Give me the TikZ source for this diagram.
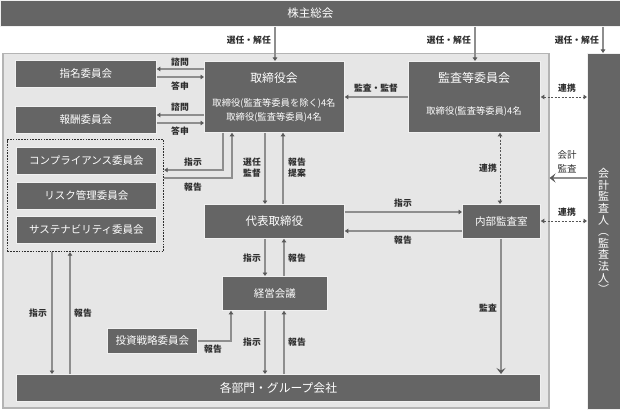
\documentclass[tikz,border=0pt]{standalone}
\usepackage{fontspec}
\setmainfont{Noto Sans CJK JP}
\usetikzlibrary{arrows.meta}
\definecolor{boxc}{HTML}{656565}
\definecolor{panelc}{HTML}{E6E6E6}
\definecolor{panelb}{HTML}{B4B4B4}
\definecolor{linec}{HTML}{8E8E8E}
\definecolor{tipc}{HTML}{5A5A5A}
\definecolor{txtc}{HTML}{2E2E2E}
\definecolor{dotc}{HTML}{555555}
\tikzset{
  box/.style={draw=white!88!gray, line width=0.8pt, fill=boxc, text=white, inner sep=0pt, anchor=north west, font=\fontsize{10.5}{12}\selectfont},
  btxt/.style={text=white, inner sep=0pt},
  lbl/.style={text=txtc, inner sep=0pt, font=\bfseries\fontsize{8.8}{11}\selectfont, align=center},
  conn/.style={draw=linec, line width=1.3pt, -{Triangle[width=4.5pt,length=3.5pt,color=tipc]}},
  bigconn/.style={draw=linec, line width=1.3pt, -{Stealth[width=9pt,length=6pt,inset=2.5pt,color=tipc]}},
  dotconn/.style={draw=dotc, line width=0.9pt, dash pattern=on 2pt off 1.5pt, {Triangle[width=4.5pt,length=3.5pt,color=tipc]}-{Triangle[width=4.5pt,length=3.5pt,color=tipc]}}
}
\begin{document}
\begin{tikzpicture}[x=1pt,y=-1pt]
\useasboundingbox (0,0) rectangle (620,409);
\fill[white] (0,0) rectangle (620,409);
% panel
\node[draw=panelb, fill=panelc, line width=1.5pt, minimum width=546pt, minimum height=354pt, anchor=north west, inner sep=0pt] (panel) at (2,53) {};
% top bar
\node[box, minimum width=620pt, minimum height=26pt, font=\fontsize{11.5}{13}\selectfont] (kabu) at (0,0) {株主総会};
% auditor column
\node[box, minimum width=34pt, minimum height=356pt] (kaikei) at (587,53) {};
\node[btxt, align=center, font=\fontsize{11}{11.6}\selectfont] (kaikeit) at (603.5,231) {会\\計\\監\\査\\人\\︵\\監\\査\\法\\人\\︶};
% committees
\node[box, minimum width=141pt, minimum height=27pt] (shimei) at (15,60) {指名委員会};
\node[box, minimum width=141pt, minimum height=27pt] (housyu) at (15,106) {報酬委員会};
% board
\node[box, minimum width=140pt, minimum height=71pt] (tori) at (204,61) {};
\node[btxt, font=\fontsize{11.8}{13}\selectfont] (torit) at (274,78) {取締役会};
\node[btxt, align=center, font=\fontsize{9.3}{14}\selectfont] (toris) at (274,110) {取締役(監査等委員を除く)4名\\取締役(監査等委員)4名};
% audit committee
\node[box, minimum width=132pt, minimum height=71pt] (kansa) at (408,61) {};
\node[btxt, font=\fontsize{12}{13}\selectfont] (kansat) at (474,78) {監査等委員会};
\node[btxt, font=\fontsize{9.3}{11}\selectfont] (kansas) at (474,111) {取締役(監査等委員)4名};
% dashed group
\node[draw=txtc, line width=1.2pt, dash pattern=on 1.6pt off 1.2pt, minimum width=156pt, minimum height=112pt, anchor=north west, inner sep=0pt] (dbox) at (7,139) {};
\node[box, minimum width=140pt, minimum height=27pt] (comp) at (16,147) {コンプライアンス委員会};
\node[box, minimum width=140pt, minimum height=27pt] (risk) at (16,182) {リスク管理委員会};
\node[box, minimum width=140pt, minimum height=27pt] (sus) at (16,216) {サステナビリティ委員会};
% executives
\node[box, minimum width=140pt, minimum height=34pt, font=\fontsize{11.5}{13}\selectfont] (daihyo) at (204,204) {代表取締役};
\node[box, minimum width=78pt, minimum height=34pt] (naibu) at (462,204) {内部監査室};
\node[box, minimum width=105pt, minimum height=34pt] (keiei) at (222,276) {経営会議};
\node[box, minimum width=90pt, minimum height=25pt] (toushi) at (107,328) {投資戦略委員会};
\node[box, minimum width=524pt, minimum height=27pt, font=\fontsize{11.8}{13}\selectfont] (kakubu) at (16,374) {各部門・グループ会社};

% election arrows
\draw[conn] (kabu.south -| 275,0) -- (tori.north -| 275,0);
\draw[conn] (kabu.south -| 475,0) -- (kansa.north -| 475,0);
\draw[conn] (kabu.south -| 603,0) -- (kaikei.north -| 603,0);
\node[lbl, anchor=east] (l1) at (271,40) {選任・解任};
\node[lbl, anchor=east] (l2) at (471,40) {選任・解任};
\node[lbl, anchor=east] (l3) at (599,40) {選任・解任};

% nomination / remuneration
\draw[conn] (tori.west |- 0,69) -- (shimei.east |- 0,69);
\draw[conn] (shimei.east |- 0,77) -- (tori.west |- 0,77);
\draw[conn] (tori.west |- 0,115) -- (housyu.east |- 0,115);
\draw[conn] (housyu.east |- 0,123) -- (tori.west |- 0,123);
\node[lbl] (l4) at (180,62) {諮問};
\node[lbl] (l5) at (180,86) {答申};
\node[lbl] (l6) at (180,107) {諮問};
\node[lbl] (l7) at (180,131) {答申};

% audit & supervision
\draw[conn] (kansa.west |- 0,97) -- (tori.east |- 0,97);
\node[lbl] (l8) at (376,88) {監査・監督};
\draw[dotconn] (kansa.east |- 0,97) -- (kaikei.west |- 0,97);
\node[lbl] (l9) at (567,88) {連携};

% board <-> compliance group
\draw[conn] (tori.south -| 223,0) |- (dbox.east |- 0,170);
\draw[conn] (dbox.east |- 0,178) -| (tori.south -| 232,0);
\node[lbl] (l10) at (193,162) {指示};
\node[lbl] (l11) at (193,187) {報告};

% board <-> representative director
\draw[conn] (tori.south -| 265,0) -- (daihyo.north -| 265,0);
\draw[conn] (daihyo.north -| 283,0) -- (tori.south -| 283,0);
\node[lbl] (l12) at (252,168) {選任\\監督};
\node[lbl] (l13) at (297,168) {報告\\提案};

% audit committee <-> internal audit
\draw[dotconn] (kansa.south -| 500,0) -- (naibu.north -| 500,0);
\node[lbl] (l14) at (488,168) {連携};

% representative <-> internal audit
\draw[conn] (daihyo.east |- 0,212) -- (naibu.west |- 0,212);
\draw[conn] (naibu.west |- 0,231) -- (daihyo.east |- 0,231);
\node[lbl] (l15) at (403,203) {指示};
\node[lbl] (l16) at (403,240) {報告};

% accounting auditor
\draw[bigconn] (kaikei.west |- 0,178) -- (panel.east |- 0,178);
\node[lbl, font=\fontsize{9.5}{14}\selectfont] (l17) at (567,162) {会計\\監査};
\draw[dotconn] (naibu.east |- 0,221) -- (kaikei.west |- 0,221);
\node[lbl] (l18) at (567,212) {連携};

% representative <-> management meeting
\draw[conn] (daihyo.south -| 265,0) -- (keiei.north -| 265,0);
\draw[conn] (keiei.north -| 284,0) -- (daihyo.south -| 284,0);
\node[lbl] (l19) at (252,258) {指示};
\node[lbl] (l20) at (297,258) {報告};

% management meeting <-> departments
\draw[conn] (keiei.south -| 265,0) -- (kakubu.north -| 265,0);
\draw[conn] (kakubu.north -| 284,0) -- (keiei.south -| 284,0);
\node[lbl] (l21) at (252,342) {指示};
\node[lbl] (l22) at (297,342) {報告};

% investment committee
\draw[conn] (toushi.east) -| (keiei.south -| 231,0);
\node[lbl] (l23) at (213,349) {報告};

% compliance group <-> departments
\draw[conn] (dbox.south -| 52,0) -- (kakubu.north -| 52,0);
\draw[conn] (kakubu.north -| 70,0) -- (dbox.south -| 70,0);
\node[lbl] (l24) at (38,313) {指示};
\node[lbl] (l25) at (83,313) {報告};

% internal audit -> departments
\draw[bigconn] (naibu.south -| 501,0) -- (kakubu.north -| 501,0);
\node[lbl] (l26) at (488,308) {監査};
\end{tikzpicture}
\end{document}
